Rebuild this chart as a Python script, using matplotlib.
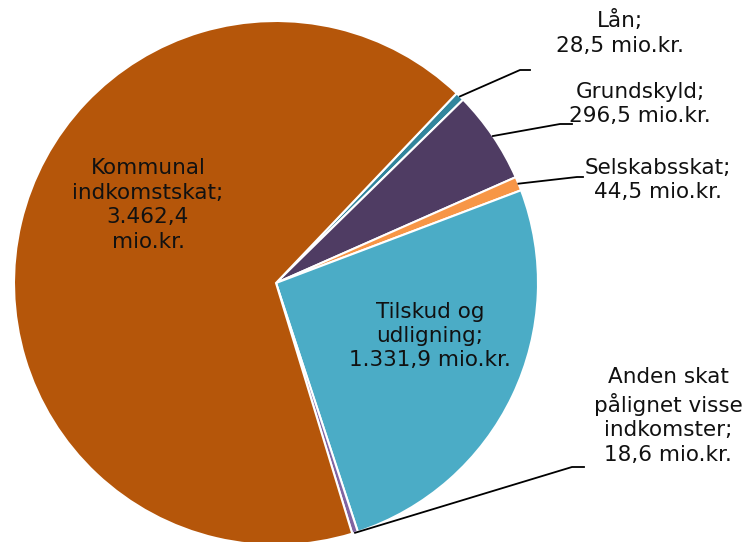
import matplotlib.pyplot as plt
import numpy as np

# Data
labels = ['Lån', 'Grundskyld', 'Selskabsskat', 'Tilskud og\nudligning',
          'Anden skat\npålignet visse\nindkomster', 'Kommunal\nindkomstskat']
values = [28.5, 296.5, 44.5, 1331.9, 18.6, 3462.4]
value_text = ['28,5 mio.kr.', '296,5 mio.kr.', '44,5 mio.kr.', '1.331,9 mio.kr.',
              '18,6 mio.kr.', '3.462,4\nmio.kr.']
colors = ['#31859C', '#4F3C63', '#F79646', '#4BACC6', '#8064A2', '#B5560A']

W, H = 750, 542
cx, cy, R = 276, 283, 262

def px(x, y):
    # pixel position -> data coords of the pie axes
    return (x - cx) / R, (cy - y) / R

fig = plt.figure(figsize=(7.5, 5.42), dpi=100)
ax = fig.add_axes([(cx - R) / W, (H - cy - R) / H, 2 * R / W, 2 * R / H])

wedges, _ = ax.pie(values, colors=colors, startangle=46.4, counterclock=False,
                   radius=1, wedgeprops=dict(edgecolor='white', linewidth=1.5))
for w in wedges:
    w.set_clip_on(False)
ax.set_xlim(-1, 1)
ax.set_ylim(-1, 1)
ax.set_aspect('equal')
ax.axis('off')

fs = 15.5
ls = 1.28

# labels inside slices
ax.text(*px(430, 336), labels[3] + ';\n' + value_text[3],
        ha='center', va='center', fontsize=fs, linespacing=ls, color='#111111')
ax.text(*px(148, 205), labels[5] + ';\n' + value_text[5],
        ha='center', va='center', fontsize=fs, linespacing=ls, color='#111111')

# outside labels with leader lines: (label pos, elbow, end)
outside = {
    0: ((620, 33), (520, 70), (530, 70)),
    1: ((640, 104), (560, 124), (572, 124)),
    2: ((658, 180), (577, 177), (583, 177)),
    4: ((668, 416), (572, 467), (584, 467)),
}
for i, (lab, elbow, end) in outside.items():
    w = wedges[i]
    th = np.deg2rad((w.theta1 + w.theta2) / 2)
    x0, y0 = np.cos(th), np.sin(th)
    xe, ye = px(*elbow)
    xn, yn = px(*end)
    ax.plot([x0, xe, xn], [y0, ye, yn], color='black', lw=1.3, clip_on=False)
    ax.text(*px(*lab), labels[i] + ';\n' + value_text[i], ha='center', va='center',
            fontsize=fs, linespacing=ls, clip_on=False, color='#111111')

fig.savefig('out.png', dpi=100)
